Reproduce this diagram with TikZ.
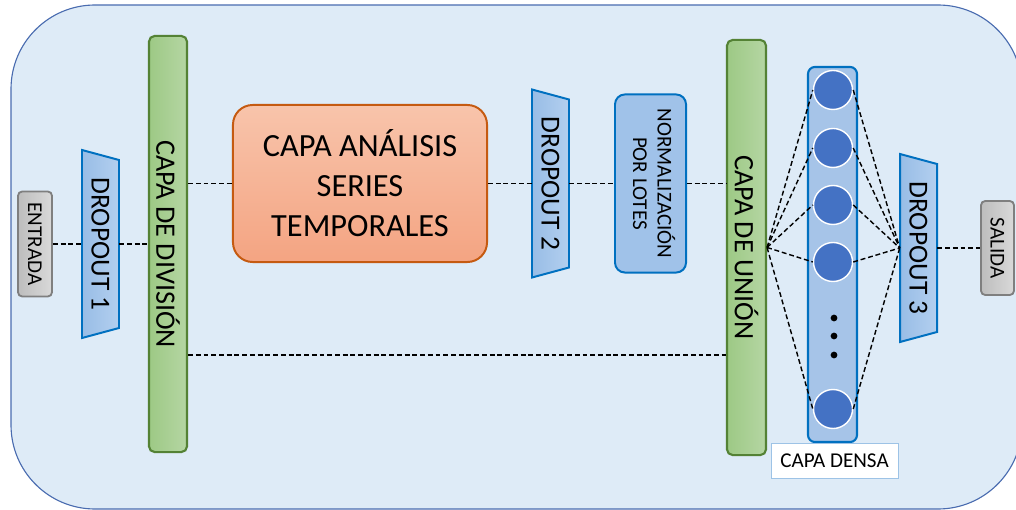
\documentclass[tikz,border=0pt]{standalone}
\usepackage{fontspec}
\setmainfont{Carlito}
\usepackage{graphicx}
\usetikzlibrary{positioning,calc}
\definecolor{framefill}{HTML}{DEEBF7}
\definecolor{frameline}{HTML}{4A6CB0}
\definecolor{bardark}{HTML}{9DC985}
\definecolor{barlight}{HTML}{B5D6A3}
\definecolor{barline}{HTML}{548235}
\definecolor{blueline}{HTML}{0070C0}
\definecolor{dropdark}{HTML}{98BDE6}
\definecolor{droplight}{HTML}{B3CFEF}
\definecolor{normfill}{HTML}{A0C2E9}
\definecolor{anatop}{HTML}{F8C4AB}
\definecolor{anabot}{HTML}{F4A482}
\definecolor{analine}{HTML}{C55A11}
\definecolor{iodark}{HTML}{BDBDBD}
\definecolor{iolight}{HTML}{D9D9D9}
\definecolor{ioline}{HTML}{7F7F7F}
\definecolor{densefill}{HTML}{A6C4E8}
\definecolor{neuron}{HTML}{4472C4}
\definecolor{lblline}{HTML}{9DC3E6}
\newcommand{\dropout}[4]{% name, left x, centre y, text
  \draw[dropshape] (#2,#3-94) -- (#2+37,#3-84) -- (#2+37,#3+84) -- (#2,#3+94) -- cycle;
  \node[droptext] (#1) at (#2+18.5,#3) {\rotatebox{-90}{#4}};}

\begin{document}
\begin{tikzpicture}[x=0.025cm, y=-0.025cm,
    conn/.style={draw=black, line width=1pt, dash pattern=on 3.5pt off 2pt},
    io/.style={draw=ioline, rounded corners=3pt, line width=1.3pt, left color=iodark, right color=iolight,
      inner sep=0pt, font=\fontsize{15}{17.5}\selectfont},
    bar/.style={draw=barline, rounded corners=4pt, line width=1.5pt, left color=bardark, right color=barlight,
      inner sep=0pt, minimum width=0.95cm, minimum height=10.4cm, font=\fontsize{20}{24}\selectfont},
    dropshape/.style={draw=blueline, line width=1.4pt, left color=dropdark, right color=droplight},
    droptext/.style={inner sep=0pt, minimum width=0.925cm, minimum height=4.7cm, font=\fontsize{19.5}{23}\selectfont},
    ana/.style={draw=analine, rounded corners=14pt, line width=1.4pt, top color=anatop, bottom color=anabot,
      align=center, inner sep=0pt, minimum width=6.35cm, minimum height=3.925cm, font=\fontsize{23}{28.5}\selectfont},
    norm/.style={draw=blueline, fill=normfill, rounded corners=7pt, line width=1.4pt, inner sep=0pt,
      minimum width=1.775cm, minimum height=4.45cm, font=\fontsize{15}{17.5}\selectfont},
    dense/.style={draw=blueline, fill=densefill, rounded corners=5pt, line width=1.5pt, inner sep=0pt,
      minimum width=1.225cm, minimum height=9.375cm},
    unit/.style={circle, draw=white, fill=neuron, line width=1pt, inner sep=0pt, minimum size=0.975cm},
    lbl/.style={draw=lblline, fill=white, line width=0.7pt, inner sep=0pt, minimum width=3.175cm,
      minimum height=0.875cm, font=\fontsize{15}{17.5}\selectfont}]
  \useasboundingbox (0,0) rectangle (1016,510);
  \clip (0,0) rectangle (1016,510);
  \draw[frameline, fill=framefill, line width=0.8pt, rounded corners=2.1cm] (11,5) rectangle (1022,509);
  % input, split and time series branch
  \node[io, minimum width=0.85cm, minimum height=2.625cm] (entrada) at (35,244) {\rotatebox{-90}{ENTRADA}};
  \dropout{d1}{82}{244}{DROPOUT 1}
  \node[bar] (div) at (168,244) {\rotatebox{-90}{CAPA DE DIVISIÓN}};
  \node[ana] (ana) at (360,183.5) {CAPA ANÁLISIS\\SERIES\\TEMPORALES};
  \dropout{d2}{532}{183.5}{DROPOUT 2}
  \node[norm] (norm) at (650.5,183.5) {\rotatebox{-90}{\begin{tabular}{@{}c@{}}NORMALIZACIÓN\\POR LOTES\end{tabular}}};
  \node[bar, minimum width=0.975cm, minimum height=10.375cm] (union) at (746.5,247.5) {\rotatebox{-90}{CAPA DE UNIÓN}};
  % dense layer
  \node[dense] (dense) at (832.5,254.5) {};
  \foreach \i/\y in {1/90,2/148,3/205,4/262,5/409}
    \node[unit] (n\i) at (833,\y) {};
  \foreach \y in {318,336,355}
    \fill (834,\y) circle (2.4pt);
  \node[lbl] (capadensa) at (834.5,460.5) {CAPA DENSA};
  \dropout{d3}{900}{248}{DROPOUT 3}
  \node[io, minimum width=0.825cm, minimum height=2.35cm] (salida) at (997.5,248) {\rotatebox{-90}{SALIDA}};
  % connectors
  \coordinate (low) at (0,355);
  \draw[conn] (entrada.east) -- (d1.west);
  \draw[conn] (d1.east) -- (div.west);
  \draw[conn] (div.east |- ana.west) -- (ana.west);
  \draw[conn] (ana.east) -- (d2.west);
  \draw[conn] (d2.east) -- (norm.west);
  \draw[conn] (norm.east) -- (union.west |- norm.east);
  \draw[conn] (div.east |- low) -- (union.west |- low);
  \foreach \i in {1,...,5} {
    \draw[conn] (union.east) -- (n\i.west);
    \draw[conn] (n\i.east) -- (d3.west);
  }
  \draw[conn] (d3.east) -- (salida.west);
\end{tikzpicture}
\end{document}
